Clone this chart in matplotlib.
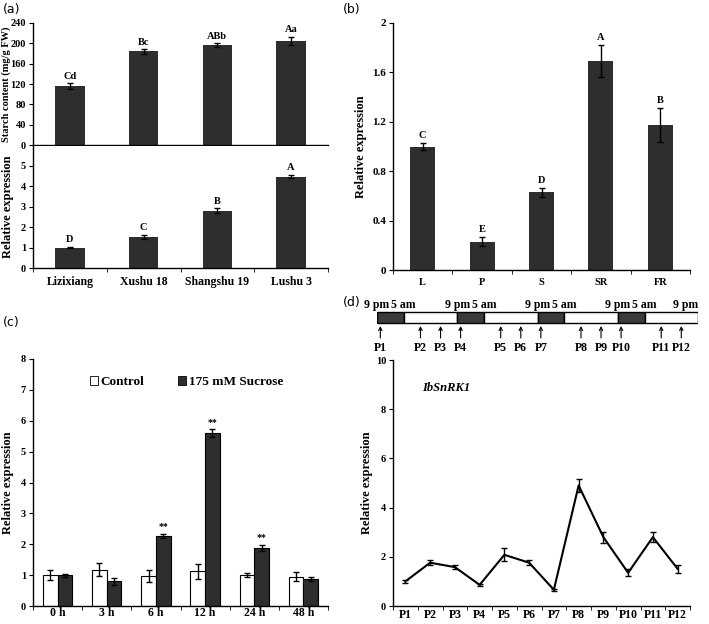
import matplotlib
matplotlib.use('Agg')
import matplotlib.pyplot as plt
from matplotlib.patches import Rectangle, Patch
import numpy as np

plt.rcParams['font.family'] = ['Liberation Serif', 'DejaVu Serif']
plt.rcParams['font.weight'] = 'bold'
plt.rcParams['axes.labelweight'] = 'bold'
plt.rcParams['axes.linewidth'] = 1.0

W, H = 709, 624
BAR = '#2e2e2e'

# (a) cultivars
cultivars = ['Lizixiang', 'Xushu 18', 'Shangshu 19', 'Lushu 3']
starch = [116, 184, 196, 205]
starch_err = [5, 4, 4, 8]
starch_sig = ['Cd', 'Bc', 'ABb', 'Aa']
cult_expr = [1.0, 1.52, 2.8, 4.48]
cult_expr_err = [0.03, 0.12, 0.12, 0.07]
cult_sig = ['D', 'C', 'B', 'A']

# (b) tissues
tissues = ['L', 'P', 'S', 'SR', 'FR']
tissue_expr = [1.0, 0.23, 0.63, 1.69, 1.175]
tissue_err = [0.03, 0.035, 0.035, 0.13, 0.14]
tissue_sig = ['C', 'E', 'D', 'A', 'B']

# (c) sucrose treatment
times = ['0 h', '3 h', '6 h', '12 h', '24 h', '48 h']
control = [1.0, 1.18, 0.97, 1.12, 1.0, 0.95]
control_err = [0.15, 0.22, 0.2, 0.25, 0.07, 0.15]
sucrose = [1.0, 0.8, 2.27, 5.6, 1.88, 0.87]
sucrose_err = [0.05, 0.12, 0.07, 0.12, 0.1, 0.06]
sucrose_sig = ['', '', '**', '**', '**', '']

# (d) diurnal
points = ['P%d' % i for i in range(1, 13)]
sample_hours = [1, 13, 19, 25, 37, 43, 49, 61, 67, 73, 85, 91]
diurnal = [1.0, 1.76, 1.58, 0.86, 2.08, 1.76, 0.66, 4.9, 2.8, 1.35, 2.8, 1.51]
diurnal_err = [0.06, 0.1, 0.07, 0.05, 0.27, 0.1, 0.05, 0.28, 0.22, 0.15, 0.2, 0.15]
time_marks = ['9 pm', '5 am', '9 pm', '5 am', '9 pm', '5 am', '9 pm', '5 am', '9 pm']
time_hours = [0, 8, 24, 32, 48, 56, 72, 80, 96]


def px_axes(fig, x0, y0, x1, y1):
    # axes from pixel box (top-left origin)
    return fig.add_axes([x0 / W, 1 - y1 / H, (x1 - x0) / W, (y1 - y0) / H])


def excel_style(ax, labels, fs_tick=8, fs_cat=8.5, pad=6):
    n = len(labels)
    ax.spines[['top', 'right']].set_visible(False)
    ax.set_xlim(-0.5, n - 0.5)
    ax.set_xticks(range(n))
    ax.set_xticklabels(labels, fontsize=fs_cat)
    ax.set_xticks(np.arange(n + 1) - 0.5, minor=True)
    ax.tick_params(axis='x', which='major', length=0, pad=pad)
    ax.tick_params(axis='x', which='minor', length=3, direction='out')
    ax.tick_params(axis='y', length=3, direction='out', labelsize=fs_tick, pad=2)


def sig_labels(ax, xs, vals, errs, sig, fs=7.5):
    for x, v, e, s in zip(xs, vals, errs, sig):
        if s:
            ax.annotate(s, (x, v + e), xytext=(0, 2), textcoords='offset points',
                        ha='center', va='bottom', fontsize=fs)


fig = plt.figure(figsize=(W / 100, H / 100), dpi=100)
ekw = dict(ecolor='black', elinewidth=1, capsize=2)

# ---- (a) top: starch
ax = px_axes(fig, 33, 23, 328, 145)
x = np.arange(len(cultivars))
ax.bar(x, starch, width=0.4, color=BAR, yerr=starch_err, error_kw=ekw)
excel_style(ax, [''] * len(cultivars), fs_tick=7.5)
ax.tick_params(axis='x', which='minor', length=0)
ax.set_ylim(0, 240)
ax.set_yticks(range(0, 241, 40))
ax.set_ylabel('Starch content (mg/g FW)', fontsize=7.5)
ax.yaxis.set_label_coords(-0.076, 0.5)
sig_labels(ax, x, starch, starch_err, starch_sig)

# ---- (a) bottom: expression
ax = px_axes(fig, 33, 146, 328, 268)
ax.bar(x, cult_expr, width=0.4, color=BAR, yerr=cult_expr_err, error_kw=ekw)
excel_style(ax, cultivars, fs_tick=7.5)
ax.set_ylim(0, 5.98)
ax.set_yticks(range(0, 6))
ax.set_ylabel('Relative expression', fontsize=9)
ax.yaxis.set_label_coords(-0.064, 0.5)
sig_labels(ax, x, cult_expr, cult_expr_err, cult_sig)

# ---- (b) tissues
ax = px_axes(fig, 393, 23, 690, 270)
x = np.arange(len(tissues))
ax.bar(x, tissue_expr, width=0.42, color=BAR, yerr=tissue_err, error_kw=ekw)
excel_style(ax, tissues, fs_cat=7.5)
ax.set_ylim(0, 2)
ax.set_yticks([0, 0.4, 0.8, 1.2, 1.6, 2])
ax.set_yticklabels(['0', '0.4', '0.8', '1.2', '1.6', '2'])
ax.set_ylabel('Relative expression', fontsize=9)
ax.yaxis.set_label_coords(-0.087, 0.5)
sig_labels(ax, x, tissue_expr, tissue_err, tissue_sig)

# ---- (c) sucrose
ax = px_axes(fig, 33, 359, 328, 606)
x = np.arange(len(times))
ax.bar(x - 0.15, control, width=0.3, color='white', edgecolor='black', linewidth=0.8,
       yerr=control_err, error_kw=ekw)
ax.bar(x + 0.15, sucrose, width=0.3, color=BAR, edgecolor='black', linewidth=0.8,
       yerr=sucrose_err, error_kw=ekw)
excel_style(ax, times, fs_tick=7.5, pad=1)
ax.set_ylim(0, 8)
ax.set_yticks(range(0, 9))
ax.set_ylabel('Relative expression', fontsize=9)
ax.yaxis.set_label_coords(-0.064, 0.5)
sig_labels(ax, x + 0.15, sucrose, sucrose_err, sucrose_sig, fs=7)
handles = [Patch(facecolor='white', edgecolor='black', linewidth=0.6),
           Patch(facecolor=BAR, edgecolor='black', linewidth=0.6)]
ax.legend(handles, ['Control', '175 mM Sucrose'], loc='center', ncol=2,
          bbox_to_anchor=(0.52, 0.907), frameon=False, fontsize=9.5,
          handlelength=0.6, handleheight=0.6, handletextpad=0.2, columnspacing=2.6)

# ---- (d) timeline
tl = px_axes(fig, 377, 295, 698, 355)
tl.set_xlim(0, 96)
tl.set_ylim(60, 0)
tl.axis('off')
for d in range(4):
    tl.add_patch(Rectangle((d * 24, 17), 8, 11, facecolor='#3a3a3a', edgecolor='black', lw=1))
    tl.add_patch(Rectangle((d * 24 + 8, 17), 16, 11, facecolor='white', edgecolor='black', lw=1))
for i, (h, lab) in enumerate(zip(time_hours, time_marks)):
    ha = 'right' if i == len(time_hours) - 1 else 'center'
    tl.text(h, 10, lab, ha=ha, va='center', fontsize=8.5)
for h, p in zip(sample_hours, points):
    tl.annotate('', xy=(h, 31), xytext=(h, 43),
                arrowprops=dict(arrowstyle='->', lw=0.8, color='black',
                                shrinkA=0, shrinkB=0, mutation_scale=6))
    tl.text(h, 53, p, ha='center', va='center', fontsize=8.5)

# ---- (d) line
ax = px_axes(fig, 393, 360, 690, 606)
x = np.arange(len(points))
ax.errorbar(x, diurnal, yerr=diurnal_err, color='black', lw=1.5,
            ecolor='black', elinewidth=1, capsize=2)
excel_style(ax, points, fs_tick=7.5, fs_cat=8.5, pad=2.5)
ax.set_ylim(0, 10)
ax.set_yticks(range(0, 11, 2))
ax.set_ylabel('Relative expression', fontsize=9)
ax.yaxis.set_label_coords(-0.067, 0.5)
ax.text(0.18, 0.886, 'IbSnRK1', transform=ax.transAxes, ha='center', va='center',
        fontsize=9, style='italic')

# panel letters
for lab, px, py in [('(a)', 3, 9), ('(b)', 343, 9), ('(c)', 3, 322), ('(d)', 343, 302)]:
    fig.text(px / W, 1 - py / H, lab, family='DejaVu Sans', fontweight='normal',
             fontsize=9, va='center', ha='left')

fig.savefig('out.png', dpi=100)
